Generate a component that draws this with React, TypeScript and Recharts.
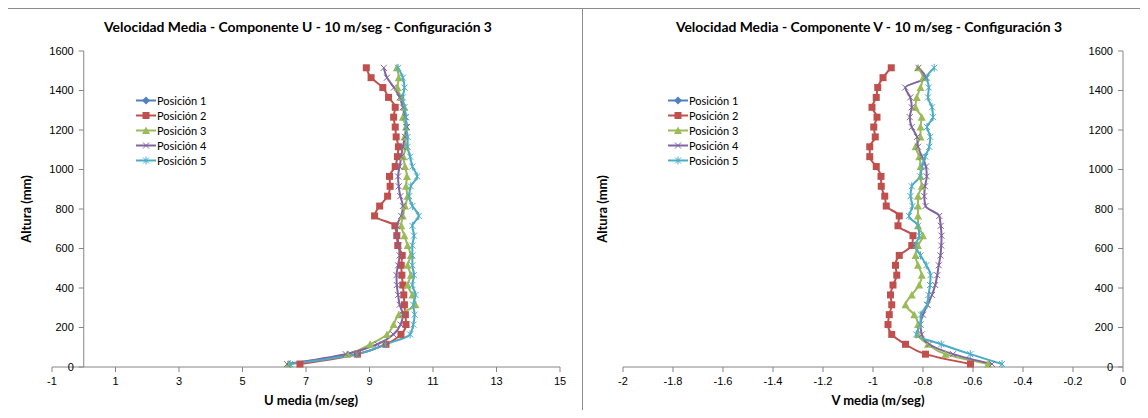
import React from 'react';
import { LineChart, Line, XAxis, YAxis, ReferenceLine } from 'recharts';

// alturas de medición (mm)
const HEIGHTS = [15, 65, 115, 165, 215, 265, 315, 365, 415, 465, 515, 565, 615, 665, 715, 765, 815, 865, 915, 965, 1015, 1065, 1115, 1165, 1215, 1265, 1315, 1365, 1415, 1465, 1515];

// componente U (m/seg)
const U_POS1: number[] = [];
const U_POS2 = [6.81, 8.62, 9.52, 9.99, 10.15, 10.13, 10.1, 10.08, 10.05, 10.02, 10.0, 10.03, 9.89, 9.86, 9.8, 9.16, 9.32, 9.57, 9.65, 9.63, 9.81, 9.88, 9.91, 9.84, 9.81, 9.76, 9.81, 9.6, 9.42, 9.05, 8.9];
const U_POS3 = [6.45, 8.3, 9.02, 9.55, 9.76, 9.92, 10.45, 10.35, 10.2, 10.3, 10.2, 10.3, 10.2, 10.1, 10.0, 10.05, 10.12, 10.2, 10.15, 10.18, 10.12, 10.07, 10.15, 10.1, 10.15, 10.05, 10.1, 10.0, 9.88, 9.92, 9.86];
const U_POS4 = [6.4, 8.25, 9.25, 9.75, 9.98, 10.05, 9.95, 9.9, 9.86, 9.85, 9.9, 9.95, 9.92, 9.88, 9.86, 10.0, 10.05, 9.97, 9.92, 9.9, 9.95, 10.0, 10.05, 10.12, 10.18, 10.13, 10.05, 9.95, 9.77, 9.55, 9.45];
const U_POS5 = [6.5, 8.6, 9.5, 10.28, 10.38, 10.42, 10.38, 10.45, 10.35, 10.4, 10.35, 10.35, 10.35, 10.4, 10.35, 10.55, 10.35, 10.25, 10.3, 10.5, 10.35, 10.28, 10.2, 10.2, 10.15, 10.15, 10.1, 10.05, 10.1, 10.05, 9.9];

// componente V (m/seg)
const V_POS1: number[] = [];
const V_POS2 = [-0.61, -0.79, -0.87, -0.925, -0.94, -0.935, -0.925, -0.93, -0.92, -0.905, -0.91, -0.895, -0.845, -0.84, -0.9, -0.895, -0.947, -0.953, -0.967, -0.968, -0.987, -1.013, -1.013, -0.991, -0.997, -0.984, -1.004, -0.987, -0.981, -0.96, -0.927];
const V_POS3 = [-0.54, -0.71, -0.78, -0.82, -0.82, -0.835, -0.87, -0.845, -0.815, -0.805, -0.82, -0.83, -0.82, -0.8, -0.82, -0.82, -0.82, -0.82, -0.805, -0.81, -0.81, -0.815, -0.83, -0.81, -0.81, -0.805, -0.83, -0.825, -0.81, -0.8, -0.82];
const V_POS4 = [-0.524, -0.68, -0.775, -0.805, -0.81, -0.8, -0.782, -0.764, -0.751, -0.743, -0.737, -0.73, -0.727, -0.726, -0.729, -0.735, -0.79, -0.795, -0.792, -0.785, -0.788, -0.804, -0.82, -0.824, -0.845, -0.853, -0.845, -0.851, -0.871, -0.79, -0.818];
const V_POS5 = [-0.484, -0.611, -0.727, -0.827, -0.811, -0.808, -0.784, -0.778, -0.772, -0.77, -0.787, -0.81, -0.83, -0.815, -0.82, -0.856, -0.842, -0.85, -0.845, -0.811, -0.804, -0.791, -0.775, -0.771, -0.784, -0.76, -0.764, -0.78, -0.777, -0.784, -0.755];

const SERIES = ['Posición 1', 'Posición 2', 'Posición 3', 'Posición 4', 'Posición 5'];
const COLORS = ['#4F81BD', '#C0504D', '#9BBB59', '#8064A2', '#4BACC6'];
const SHAPES = ['diamond', 'square', 'triangle', 'x', 'star'];

const U_TICKS = [-1, 1, 3, 5, 7, 9, 11, 13, 15];
const V_TICKS = [-2, -1.8, -1.6, -1.4, -1.2, -1, -0.8, -0.6, -0.4, -0.2, 0];
const Y_TICKS = [0, 200, 400, 600, 800, 1000, 1200, 1400, 1600];

const AXIS = '#868686';
const TICK_FONT = '"Liberation Sans", Arial, sans-serif';
const TITLE_FONT = 'Lato, "Liberation Sans", sans-serif';

const H = 418;
const TOP = 51;
const X_AXIS_H = H - 367;

function Marker({ shape, cx, cy, color }: { shape: string; cx?: number; cy?: number; color: string }) {
  if (cx == null || cy == null) return null;
  switch (shape) {
    case 'diamond':
      return <polygon points={`${cx},${cy - 4} ${cx + 4},${cy} ${cx},${cy + 4} ${cx - 4},${cy}`} fill={color} />;
    case 'square':
      return <rect x={cx - 3.5} y={cy - 3.5} width={7} height={7} fill={color} />;
    case 'triangle':
      return <polygon points={`${cx},${cy - 4} ${cx + 4},${cy + 3.5} ${cx - 4},${cy + 3.5}`} fill={color} />;
    case 'x':
      return (
        <g stroke={color} strokeWidth={1}>
          <line x1={cx - 3} y1={cy - 3} x2={cx + 3} y2={cy + 3} />
          <line x1={cx - 3} y1={cy + 3} x2={cx + 3} y2={cy - 3} />
        </g>
      );
    default:
      return (
        <g stroke={color} strokeWidth={1}>
          <line x1={cx - 3} y1={cy - 3} x2={cx + 3} y2={cy + 3} />
          <line x1={cx - 3} y1={cy + 3} x2={cx + 3} y2={cy - 3} />
          <line x1={cx} y1={cy - 4} x2={cx} y2={cy + 4} />
        </g>
      );
  }
}

function LegendBox({ left, top }: { left: number; top: number }) {
  return (
    <div style={{ position: 'absolute', left, top, fontFamily: TITLE_FONT, fontSize: 11, color: '#000' }}>
      {SERIES.map((name, k) => (
        <div key={name} style={{ height: 15, display: 'flex', alignItems: 'center' }}>
          <svg width={21} height={15}>
            <line x1={0} x2={20} y1={7.5} y2={7.5} stroke={COLORS[k]} strokeWidth={2} />
            <Marker shape={SHAPES[k]} cx={10} cy={7.5} color={COLORS[k]} />
          </svg>
          <span>{name}</span>
        </div>
      ))}
    </div>
  );
}

interface ChartProps {
  left: number;
  width: number;
  axisWidth: number;
  marginRight: number;
  domain: [number, number];
  ticks: number[];
  values: number[][];
  xTitle: string;
}

function ProfileChart({ left, width, axisWidth, marginRight, domain, ticks, values, xTitle }: ChartProps) {
  const plotW = width - axisWidth - marginRight;
  const zeroX = axisWidth + ((0 - domain[0]) / (domain[1] - domain[0])) * plotW;

  const yTick = (props: any) => (
    <g>
      <line x1={zeroX - 5} x2={zeroX} y1={props.y} y2={props.y} stroke={AXIS} />
      <text x={zeroX - 10} y={props.y} dy="0.35em" textAnchor="end" fontSize={11} fontFamily={TICK_FONT} fill="#000">
        {props.payload.value}
      </text>
    </g>
  );

  const yTitleContent = () => {
    const cx = axisWidth / 2 + 5;
    const cy = TOP + (H - X_AXIS_H - TOP) / 2;
    return (
      <text x={cx} y={cy} transform={`rotate(-90 ${cx} ${cy})`} textAnchor="middle" fontSize={13} fontWeight={700} fontFamily={TITLE_FONT} fill="#000">
        Altura (mm)
      </text>
    );
  };

  return (
    <div style={{ position: 'absolute', left, top: 0 }}>
      <LineChart width={width} height={H} margin={{ top: TOP, right: marginRight, bottom: 0, left: 0 }}>
        <XAxis
          type="number"
          dataKey="x"
          domain={domain}
          ticks={ticks}
          interval={0}
          allowDataOverflow
          height={X_AXIS_H}
          axisLine={{ stroke: AXIS }}
          tickLine={{ stroke: AXIS }}
          tickSize={5}
          tickMargin={5}
          tick={{ fontSize: 11, fill: '#000', fontFamily: TICK_FONT }}
          tickFormatter={(v: number) => String(+v.toFixed(1))}
        />
        <YAxis
          type="number"
          domain={[0, 1600]}
          ticks={Y_TICKS}
          interval={0}
          width={axisWidth}
          axisLine={false}
          tickLine={false}
          tick={yTick}
          label={{ content: yTitleContent }}
        />
        <ReferenceLine x={0} stroke={AXIS} />
        {SERIES.map((name, k) => (
          <Line
            key={name}
            name={name}
            data={values[k].map((x, i) => ({ x, h: HEIGHTS[i] }))}
            dataKey="h"
            type="monotoneY"
            stroke={COLORS[k]}
            strokeWidth={2}
            dot={(p: any) => <Marker key={`${k}-${p.index}`} shape={SHAPES[k]} cx={p.cx} cy={p.cy} color={COLORS[k]} />}
            activeDot={false}
            isAnimationActive={false}
          />
        ))}
      </LineChart>
      {/* título del eje X, centrado bajo el área de trazado */}
      <div
        style={{
          position: 'absolute',
          left: axisWidth + 5,
          width: plotW,
          top: 392,
          textAlign: 'center',
          fontFamily: TITLE_FONT,
          fontWeight: 700,
          fontSize: 13,
          lineHeight: '16px',
          color: '#000',
          whiteSpace: 'nowrap',
        }}
      >
        {xTitle}
      </div>
    </div>
  );
}

const titleStyle: React.CSSProperties = {
  position: 'absolute',
  top: 18,
  textAlign: 'center',
  fontFamily: TITLE_FONT,
  fontWeight: 700,
  fontSize: 13.9,
  color: '#000',
  whiteSpace: 'nowrap',
};

export default function App() {
  return (
    <div style={{ position: 'relative', width: 1148, height: H, margin: -8, overflow: 'hidden', background: '#fff' }}>
      <div style={{ position: 'absolute', left: 7, top: 8, width: 600, height: 440, borderLeft: '1px solid #8c8c8c', borderTop: '1px solid #8c8c8c', boxSizing: 'border-box' }} />
      <div style={{ position: 'absolute', left: 582, top: 8, width: 600, height: 440, border: '1px solid #8c8c8c', boxSizing: 'border-box' }} />

      <div style={{ ...titleStyle, left: 0, width: 596 }}>Velocidad Media - Componente U - 10 m/seg - Configuración 3</div>
      <div style={{ ...titleStyle, left: 583, width: 572 }}>Velocidad Media - Componente V - 10 m/seg - Configuración 3</div>

      <ProfileChart left={0} width={581} axisWidth={52} marginRight={21} domain={[-1, 15]} ticks={U_TICKS} values={[U_POS1, U_POS2, U_POS3, U_POS4, U_POS5]} xTitle="U media (m/seg)" />
      <ProfileChart left={581} width={567} axisWidth={42} marginRight={25} domain={[-2, 0]} ticks={V_TICKS} values={[V_POS1, V_POS2, V_POS3, V_POS4, V_POS5]} xTitle="V media (m/seg)" />

      <LegendBox left={136} top={93} />
      <LegendBox left={668} top={93} />
    </div>
  );
}
